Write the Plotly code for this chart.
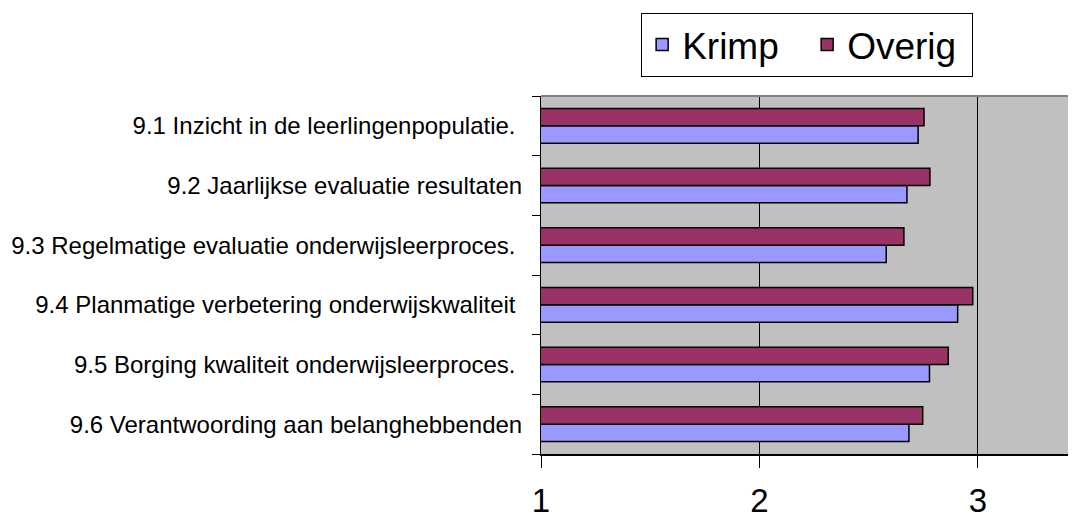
import plotly.graph_objects as go

# categories (top to bottom as shown)
categories = [
    "9.1 Inzicht in de leerlingenpopulatie.\u00a0",
    "9.2 Jaarlijkse evaluatie resultaten",
    "9.3 Regelmatige evaluatie onderwijsleerproces.\u00a0",
    "9.4 Planmatige verbetering onderwijskwaliteit\u00a0",
    "9.5 Borging kwaliteit onderwijsleerproces.\u00a0",
    "9.6 Verantwoording aan belanghebbenden",
]
krimp = [2.726, 2.675, 2.58, 2.907, 2.778, 2.684]
overig = [2.753, 2.78, 2.661, 2.976, 2.864, 2.747]
x_ticks = [1, 2, 3]

FONT = "Liberation Sans, Arial, sans-serif"

fig = go.Figure()

# Krimp first so it sits lower in each group
fig.add_trace(
    go.Bar(
        y=categories,
        x=krimp,
        orientation="h",
        name="Krimp",
        marker=dict(color="#9999FF", line=dict(color="black", width=1.5)),
    )
)
fig.add_trace(
    go.Bar(
        y=categories,
        x=overig,
        orientation="h",
        name="Overig",
        marker=dict(color="#993366", line=dict(color="black", width=1.5)),
    )
)

# gray top border of the plot area
fig.add_shape(
    type="line", xref="paper", yref="paper",
    x0=0, x1=1, y0=1, y1=1,
    line=dict(color="#808080", width=2),
)

fig.update_layout(
    width=1060,
    height=513,
    margin=dict(l=533, r=0, t=88, b=67, autoexpand=False),
    paper_bgcolor="white",
    plot_bgcolor="#C0C0C0",
    barmode="group",
    bargap=0.42,
    bargroupgap=0,
    font=dict(family=FONT, color="black"),
    showlegend=True,
    legend=dict(
        orientation="h",
        x=0.19,
        xanchor="left",
        y=1.232,
        yanchor="top",
        font=dict(size=37, family=FONT),
        bgcolor="white",
        bordercolor="black",
        borderwidth=1,
        entrywidth=120,
        traceorder="normal",
    ),
)

fig.update_xaxes(
    range=[1, 3.412],
    tickmode="array",
    tickvals=x_ticks,
    ticktext=[str(t) for t in x_ticks],
    ticks="outside",
    ticklen=12,
    tickcolor="black",
    tickfont=dict(size=33, family=FONT),
    ticklabelstandoff=4,
    automargin=False,
    showgrid=True,
    gridcolor="black",
    gridwidth=1,
    showline=True,
    linecolor="black",
    linewidth=2,
    zeroline=False,
)

fig.update_yaxes(
    type="category",
    categoryorder="array",
    categoryarray=list(reversed(categories)),
    ticks="outside",
    tickson="boundaries",
    ticklen=8,
    tickcolor="black",
    tickfont=dict(size=24, family=FONT),
    ticklabelstandoff=13,
    automargin=False,
    showgrid=False,
    showline=True,
    linecolor="black",
    linewidth=1,
)

fig.write_html("out.html")
